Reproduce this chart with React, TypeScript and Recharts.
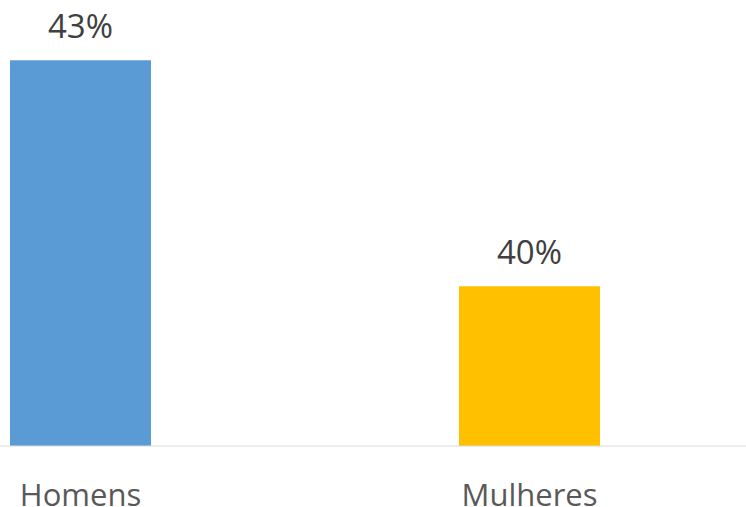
import React from 'react';
import { BarChart, Bar, XAxis, YAxis, Cell, LabelList } from 'recharts';

const categories = ['Homens', 'Mulheres'];
const percentages = [43, 40];
const barColors = ['#5B9BD5', '#FFC000'];

const data = categories.map((name, i) => ({ name, value: percentages[i] }));

const FONT = '"Open Sans", sans-serif';

const ValueLabel = (props: any) => {
  const { x, y, width, value } = props;
  return (
    <text
      x={x + width / 2}
      y={y - 22}
      textAnchor="middle"
      fill="#404040"
      fontFamily={FONT}
      fontSize={33}
    >
      {`${value}%`}
    </text>
  );
};

const CategoryTick = (props: any) => {
  const { x, y, payload } = props;
  return (
    <text
      x={x}
      y={y + 60}
      textAnchor="middle"
      fill="#595959"
      fontFamily={FONT}
      fontSize={31}
    >
      {payload.value}
    </text>
  );
};

const App: React.FC = () => {
  return (
    <div
      style={{
        position: 'absolute',
        top: 0,
        left: 0,
        width: 746,
        height: 507,
        overflow: 'hidden',
        background: '#fff',
      }}
    >
      <div style={{ position: 'absolute', left: -144, top: 0 }}>
        <BarChart
          width={898}
          height={540}
          data={data}
          margin={{ top: 0, right: 0, bottom: 0, left: 0 }}
        >
          <XAxis
            dataKey="name"
            height={94}
            axisLine={{ stroke: '#D9D9D9', strokeWidth: 1 }}
            tickLine={false}
            tickSize={0}
            tickMargin={0}
            tick={<CategoryTick />}
            interval={0}
          />
          <YAxis hide domain={[37.88, 43.8]} allowDataOverflow />
          <Bar dataKey="value" barSize={141} isAnimationActive={false}>
            {data.map((entry, index) => (
              <Cell key={`cell-${index}`} fill={barColors[index]} />
            ))}
            <LabelList dataKey="value" content={<ValueLabel />} />
          </Bar>
        </BarChart>
      </div>
    </div>
  );
};

export default App;
